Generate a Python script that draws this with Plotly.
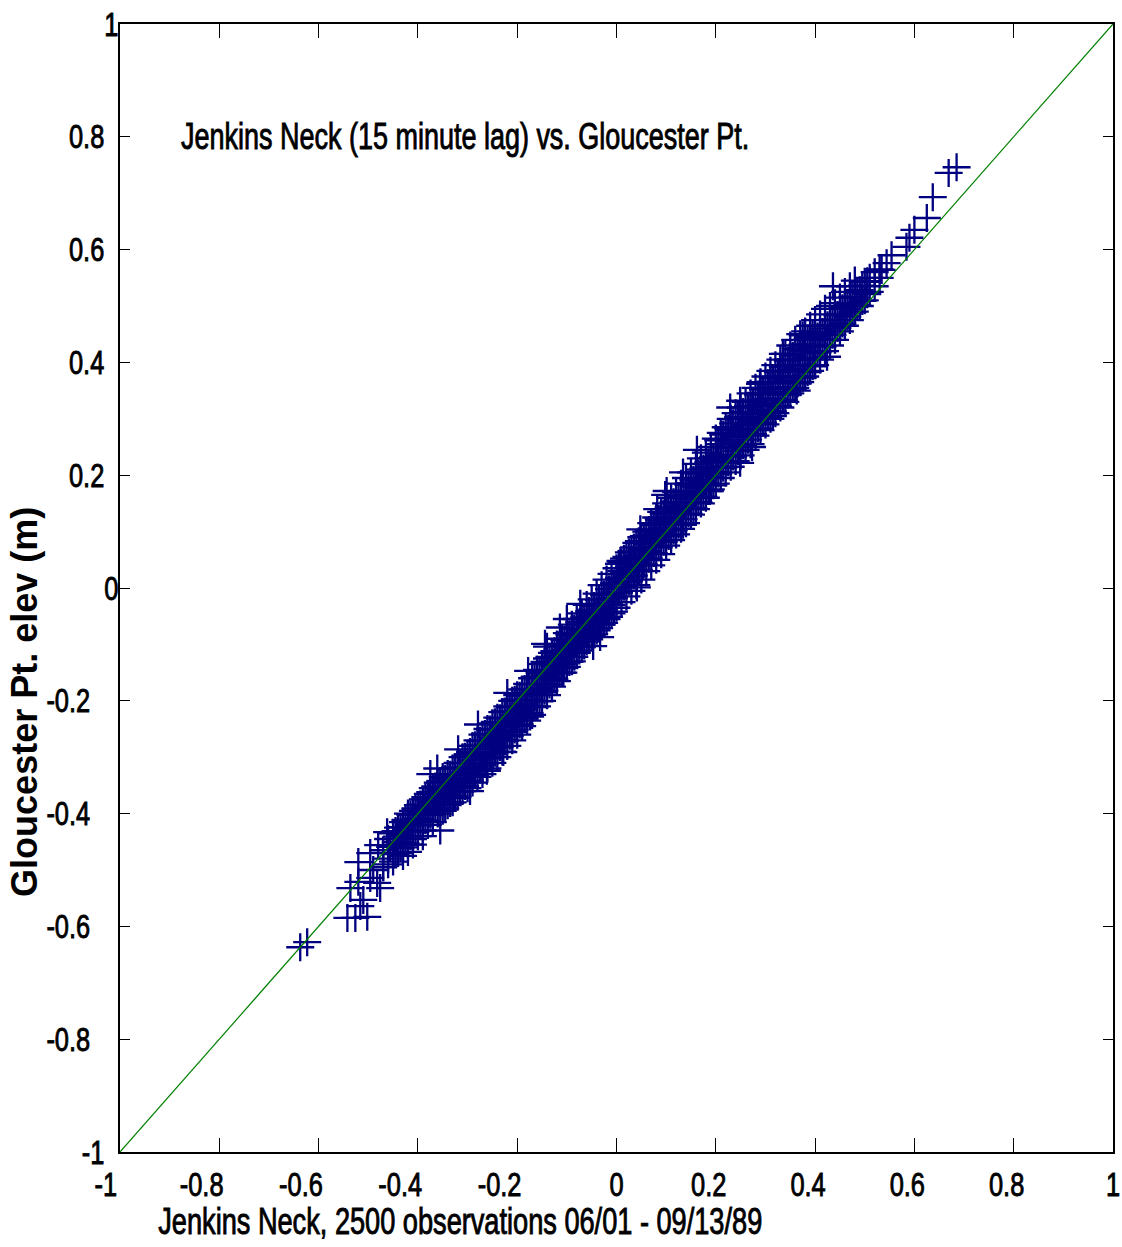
import plotly.graph_objects as go

# Paired water-surface elevations (m): Jenkins Neck (15 minute lag) vs. Gloucester Pt.
jenkins_neck = [
    -0.637, -0.623, -0.542, -0.526, -0.502, -0.516, -0.536, -0.520, -0.510,
    -0.496, -0.482, -0.476, -0.490, -0.470, -0.520, -0.496, -0.456, -0.462, -0.442, -0.480,
    -0.47, -0.47,
    -0.46, -0.46, -0.46,
    -0.45, -0.45, -0.45,
    -0.44, -0.44, -0.44,
    -0.43, -0.43, -0.43, -0.43,
    -0.42, -0.42, -0.42,
    -0.41, -0.41, -0.41, -0.41,
    -0.40, -0.40, -0.40,
    -0.39, -0.39, -0.39, -0.39,
    -0.38, -0.38, -0.38,
    -0.37, -0.37, -0.37, -0.37,
    -0.36, -0.36, -0.36,
    -0.35, -0.35, -0.35, -0.35,
    -0.34, -0.34, -0.34,
    -0.33, -0.33, -0.33, -0.33,
    -0.32, -0.32, -0.32,
    -0.31, -0.31, -0.31, -0.31,
    -0.30, -0.30, -0.30,
    -0.29, -0.29, -0.29, -0.29,
    -0.28, -0.28, -0.28,
    -0.27, -0.27, -0.27, -0.27,
    -0.26, -0.26, -0.26,
    -0.25, -0.25, -0.25, -0.25,
    -0.24, -0.24, -0.24,
    -0.23, -0.23, -0.23, -0.23,
    -0.22, -0.22, -0.22,
    -0.21, -0.21, -0.21, -0.21,
    -0.20, -0.20, -0.20,
    -0.19, -0.19, -0.19, -0.19,
    -0.18, -0.18, -0.18,
    -0.17, -0.17, -0.17, -0.17,
    -0.16, -0.16, -0.16,
    -0.15, -0.15, -0.15, -0.15,
    -0.14, -0.14, -0.14,
    -0.13, -0.13, -0.13, -0.13,
    -0.12, -0.12, -0.12,
    -0.11, -0.11, -0.11, -0.11,
    -0.10, -0.10, -0.10,
    -0.09, -0.09, -0.09, -0.09,
    -0.08, -0.08, -0.08,
    -0.07, -0.07, -0.07, -0.07,
    -0.06, -0.06, -0.06,
    -0.05, -0.05, -0.05, -0.05,
    -0.04, -0.04, -0.04,
    -0.03, -0.03, -0.03, -0.03,
    -0.02, -0.02, -0.02,
    -0.01, -0.01, -0.01, -0.01,
    0.00, 0.00, 0.00,
    0.01, 0.01, 0.01, 0.01,
    0.02, 0.02, 0.02,
    0.03, 0.03, 0.03, 0.03,
    0.04, 0.04, 0.04,
    0.05, 0.05, 0.05, 0.05,
    0.06, 0.06, 0.06,
    0.07, 0.07, 0.07, 0.07,
    0.08, 0.08, 0.08,
    0.09, 0.09, 0.09, 0.09,
    0.10, 0.10, 0.10,
    0.11, 0.11, 0.11, 0.11,
    0.12, 0.12, 0.12,
    0.13, 0.13, 0.13, 0.13,
    0.14, 0.14, 0.14,
    0.15, 0.15, 0.15, 0.15,
    0.16, 0.16, 0.16,
    0.17, 0.17, 0.17, 0.17,
    0.18, 0.18, 0.18,
    0.19, 0.19, 0.19, 0.19,
    0.20, 0.20, 0.20,
    0.21, 0.21, 0.21, 0.21,
    0.22, 0.22, 0.22,
    0.23, 0.23, 0.23, 0.23,
    0.24, 0.24, 0.24,
    0.25, 0.25, 0.25, 0.25,
    0.26, 0.26, 0.26,
    0.27, 0.27, 0.27, 0.27,
    0.28, 0.28, 0.28,
    0.29, 0.29, 0.29, 0.29,
    0.30, 0.30, 0.30,
    0.31, 0.31, 0.31, 0.31,
    0.32, 0.32, 0.32,
    0.33, 0.33, 0.33, 0.33,
    0.34, 0.34, 0.34,
    0.35, 0.35, 0.35, 0.35,
    0.36, 0.36, 0.36,
    0.37, 0.37, 0.37, 0.37,
    0.38, 0.38, 0.38,
    0.39, 0.39, 0.39, 0.39,
    0.40, 0.40, 0.40,
    0.41, 0.41, 0.41,
    0.42, 0.42, 0.42,
    0.43, 0.43, 0.43,
    0.44, 0.44, 0.44,
    0.45, 0.45, 0.45,
    0.46, 0.46, 0.46,
    0.47, 0.47, 0.47,
    0.48, 0.48, 0.48,
    0.49, 0.49,
    0.50, 0.50,
    0.51, 0.51,
    0.52, 0.52,
    0.53, 0.53,
    0.534, 0.544, 0.554, 0.584, 0.590, 0.600, 0.625, 0.637, 0.669, 0.685, 0.436,
    -0.445, -0.445, -0.445, -0.435, -0.435, -0.435, -0.425, -0.425, -0.425,
    -0.415, -0.415, -0.415, -0.405, -0.405, -0.405, -0.395, -0.395, -0.395,
    -0.385, -0.385, -0.385, -0.375, -0.375, -0.375, -0.365, -0.365, -0.365,
    -0.355, -0.355, -0.355, -0.345, -0.345, -0.345, -0.335, -0.335, -0.335,
    -0.325, -0.325, -0.325, -0.315, -0.315, -0.315, -0.305, -0.305, -0.305,
    -0.295, -0.295, -0.295, -0.285, -0.285, -0.285, -0.275, -0.275, -0.275,
    -0.265, -0.265, -0.265, -0.255, -0.255, -0.255, -0.245, -0.245, -0.245,
    -0.235, -0.235, -0.235, -0.225, -0.225, -0.225, -0.215, -0.215, -0.215,
    -0.205, -0.205, -0.205, -0.195, -0.195, -0.195, -0.185, -0.185, -0.185,
    -0.175, -0.175, -0.175, -0.165, -0.165, -0.165, -0.155, -0.155, -0.155,
    -0.145, -0.145, -0.145, -0.135, -0.135, -0.135, -0.125, -0.125, -0.125,
    -0.115, -0.115, -0.115, -0.105, -0.105, -0.105, -0.095, -0.095, -0.095,
    -0.085, -0.085, -0.085, -0.075, -0.075, -0.075, -0.065, -0.065, -0.065,
    -0.055, -0.055, -0.055, -0.045, -0.045, -0.045, -0.035, -0.035, -0.035,
    -0.025, -0.025, -0.025, -0.015, -0.015, -0.015, -0.005, -0.005, -0.005,
    0.005, 0.005, 0.005, 0.015, 0.015, 0.015, 0.025, 0.025, 0.025,
    0.035, 0.035, 0.035, 0.045, 0.045, 0.045, 0.055, 0.055, 0.055,
    0.065, 0.065, 0.065, 0.075, 0.075, 0.075, 0.085, 0.085, 0.085,
    0.095, 0.095, 0.095, 0.105, 0.105, 0.105, 0.115, 0.115, 0.115,
    0.125, 0.125, 0.125, 0.135, 0.135, 0.135, 0.145, 0.145, 0.145,
    0.155, 0.155, 0.155, 0.165, 0.165, 0.165, 0.175, 0.175, 0.175,
    0.185, 0.185, 0.185, 0.195, 0.195, 0.195, 0.205, 0.205, 0.205,
    0.215, 0.215, 0.215, 0.225, 0.225, 0.225, 0.235, 0.235, 0.235,
    0.245, 0.245, 0.245, 0.255, 0.255, 0.255, 0.265, 0.265, 0.265,
    0.275, 0.275, 0.275, 0.285, 0.285, 0.285, 0.295, 0.295, 0.295,
    0.305, 0.305, 0.305, 0.315, 0.315, 0.315, 0.325, 0.325, 0.325,
    0.335, 0.335, 0.335, 0.345, 0.345, 0.345, 0.355, 0.355, 0.355,
    0.365, 0.365, 0.365, 0.375, 0.375, 0.375, 0.385, 0.385, 0.385,
    0.395, 0.395, 0.395,
    0.405, 0.405, 0.415, 0.415, 0.425, 0.425, 0.435, 0.435, 0.445, 0.445,
    0.455, 0.455, 0.465, 0.465, 0.475, 0.475, 0.485, 0.485, 0.495, 0.495,
    0.505, 0.505,
    -0.375, -0.361, -0.319, -0.279, -0.220, -0.178, -0.140, -0.114, -0.073, -0.100,
    -0.144, 0.008, 0.048, 0.082, 0.098, 0.101, 0.134, 0.162, 0.229, 0.249,
    0.289, 0.335, 0.375,
    -0.420, -0.355, -0.295, -0.261, -0.228, -0.174, -0.107, -0.047, -0.033, 0.041,
    0.053, 0.134, 0.188, 0.249, 0.273, 0.315, 0.363, 0.424,
]

gloucester_pt = [
    -0.637, -0.628, -0.585, -0.585, -0.583, -0.564, -0.532, -0.521, -0.553,
    -0.514, -0.523, -0.532, -0.500, -0.495, -0.486, -0.470, -0.459, -0.433, -0.441, -0.456,
    -0.495, -0.465,
    -0.48, -0.445, -0.49,
    -0.47, -0.435, -0.485,
    -0.47, -0.45, -0.425,
    -0.46, -0.44, -0.415, -0.475,
    -0.455, -0.43, -0.40,
    -0.445, -0.42, -0.395, -0.455,
    -0.44, -0.41, -0.385,
    -0.43, -0.40, -0.375, -0.44,
    -0.42, -0.39, -0.365,
    -0.415, -0.385, -0.355, -0.40,
    -0.40, -0.375, -0.345,
    -0.395, -0.365, -0.335, -0.38,
    -0.385, -0.355, -0.33,
    -0.38, -0.35, -0.32, -0.37,
    -0.37, -0.34, -0.31,
    -0.36, -0.33, -0.30, -0.345,
    -0.355, -0.32, -0.295,
    -0.345, -0.31, -0.28, -0.33,
    -0.335, -0.30, -0.27,
    -0.33, -0.295, -0.26, -0.315,
    -0.32, -0.285, -0.25,
    -0.31, -0.275, -0.24, -0.295,
    -0.30, -0.265, -0.23,
    -0.29, -0.255, -0.22, -0.27,
    -0.28, -0.245, -0.21,
    -0.27, -0.235, -0.20, -0.255,
    -0.26, -0.225, -0.19,
    -0.245, -0.215, -0.18, -0.23,
    -0.235, -0.20, -0.17,
    -0.225, -0.19, -0.16, -0.21,
    -0.21, -0.18, -0.145,
    -0.20, -0.17, -0.135, -0.185,
    -0.19, -0.155, -0.125,
    -0.175, -0.145, -0.115, -0.16,
    -0.165, -0.13, -0.10,
    -0.15, -0.12, -0.09, -0.135,
    -0.14, -0.11, -0.08,
    -0.13, -0.095, -0.065, -0.115,
    -0.115, -0.085, -0.055,
    -0.105, -0.075, -0.045, -0.09,
    -0.095, -0.06, -0.03,
    -0.085, -0.05, -0.02, -0.07,
    -0.075, -0.04, -0.01,
    -0.065, -0.03, 0.005, -0.05,
    -0.055, -0.02, 0.015,
    -0.045, -0.01, 0.025, -0.03,
    -0.035, 0.00, 0.035,
    -0.025, 0.01, 0.045, 0.03,
    -0.015, 0.02, 0.055,
    -0.005, 0.035, 0.065, 0.05,
    0.005, 0.045, 0.08,
    0.015, 0.055, 0.09, 0.07,
    0.03, 0.065, 0.10,
    0.04, 0.08, 0.115, 0.095,
    0.05, 0.09, 0.125,
    0.06, 0.10, 0.135, 0.12,
    0.075, 0.115, 0.15,
    0.085, 0.125, 0.16, 0.14,
    0.095, 0.135, 0.17,
    0.105, 0.145, 0.185, 0.165,
    0.115, 0.16, 0.195,
    0.13, 0.17, 0.205, 0.185,
    0.14, 0.18, 0.22,
    0.15, 0.19, 0.23, 0.21,
    0.16, 0.205, 0.24,
    0.175, 0.215, 0.25, 0.23,
    0.185, 0.225, 0.265,
    0.195, 0.235, 0.275, 0.255,
    0.205, 0.25, 0.285,
    0.215, 0.26, 0.30, 0.28,
    0.225, 0.27, 0.31,
    0.235, 0.28, 0.32, 0.30,
    0.245, 0.29, 0.33,
    0.255, 0.30, 0.345, 0.32,
    0.27, 0.31, 0.355,
    0.28, 0.325, 0.365, 0.345,
    0.29, 0.335, 0.375,
    0.30, 0.345, 0.385, 0.365,
    0.31, 0.355, 0.395,
    0.32, 0.365, 0.405, 0.385,
    0.33, 0.375, 0.415,
    0.345, 0.385, 0.43, 0.405,
    0.355, 0.395, 0.44,
    0.365, 0.405, 0.45, 0.425,
    0.375, 0.42, 0.455,
    0.385, 0.43, 0.465, 0.445,
    0.395, 0.44, 0.475,
    0.405, 0.45, 0.485,
    0.42, 0.46, 0.495,
    0.43, 0.465, 0.50,
    0.44, 0.475, 0.505,
    0.455, 0.485, 0.515,
    0.465, 0.495, 0.525,
    0.475, 0.505, 0.535,
    0.49, 0.515, 0.545,
    0.50, 0.528,
    0.51, 0.543,
    0.525, 0.55,
    0.535, 0.56,
    0.55, 0.565,
    0.564, 0.576, 0.590, 0.605, 0.621, 0.635, 0.656, 0.693, 0.736, 0.746, 0.535,
    -0.472, -0.451, -0.431, -0.461, -0.438, -0.424, -0.452, -0.432, -0.411,
    -0.440, -0.418, -0.402, -0.433, -0.409, -0.391, -0.421, -0.401, -0.384,
    -0.412, -0.388, -0.371, -0.402, -0.379, -0.362, -0.391, -0.371, -0.352,
    -0.382, -0.358, -0.343, -0.391, -0.366, -0.338, -0.381, -0.355, -0.331,
    -0.372, -0.346, -0.318, -0.361, -0.338, -0.311, -0.351, -0.326, -0.299,
    -0.342, -0.318, -0.291, -0.331, -0.305, -0.279, -0.322, -0.298, -0.271,
    -0.311, -0.286, -0.259, -0.302, -0.278, -0.251, -0.291, -0.266, -0.238,
    -0.282, -0.258, -0.231, -0.271, -0.246, -0.219, -0.262, -0.238, -0.211,
    -0.251, -0.226, -0.198, -0.242, -0.218, -0.191, -0.231, -0.206, -0.179,
    -0.222, -0.198, -0.171, -0.211, -0.186, -0.158, -0.201, -0.178, -0.151,
    -0.182, -0.158, -0.131, -0.171, -0.146, -0.122, -0.162, -0.138, -0.112,
    -0.151, -0.126, -0.101, -0.142, -0.118, -0.092, -0.131, -0.106, -0.082,
    -0.122, -0.098, -0.072, -0.111, -0.086, -0.061, -0.102, -0.078, -0.052,
    -0.091, -0.066, -0.041, -0.082, -0.058, -0.032, -0.071, -0.046, -0.021,
    -0.062, -0.038, -0.012, -0.051, -0.026, -0.002, -0.042, -0.018, 0.008,
    -0.008, 0.018, 0.043, 0.002, 0.026, 0.052, 0.012, 0.038, 0.063,
    0.022, 0.046, 0.072, 0.032, 0.058, 0.083, 0.042, 0.066, 0.092,
    0.052, 0.078, 0.103, 0.062, 0.086, 0.112, 0.072, 0.098, 0.123,
    0.082, 0.106, 0.132, 0.092, 0.118, 0.143, 0.102, 0.126, 0.152,
    0.112, 0.138, 0.163, 0.122, 0.146, 0.172, 0.132, 0.158, 0.183,
    0.142, 0.166, 0.192, 0.152, 0.178, 0.203, 0.162, 0.186, 0.212,
    0.172, 0.198, 0.223, 0.182, 0.206, 0.232, 0.203, 0.228, 0.262,
    0.213, 0.236, 0.272, 0.223, 0.248, 0.283, 0.233, 0.256, 0.292,
    0.243, 0.268, 0.303, 0.253, 0.276, 0.312, 0.263, 0.288, 0.323,
    0.273, 0.296, 0.332, 0.283, 0.308, 0.343, 0.293, 0.316, 0.352,
    0.303, 0.328, 0.363, 0.313, 0.336, 0.372, 0.323, 0.348, 0.383,
    0.333, 0.356, 0.392, 0.343, 0.368, 0.403, 0.353, 0.376, 0.412,
    0.363, 0.388, 0.423, 0.373, 0.396, 0.432, 0.383, 0.408, 0.443,
    0.393, 0.416, 0.452,
    0.418, 0.446, 0.428, 0.454, 0.441, 0.466, 0.449, 0.476, 0.461, 0.484,
    0.469, 0.496, 0.481, 0.504, 0.489, 0.516, 0.501, 0.524, 0.509, 0.536,
    0.521, 0.544,
    -0.330, -0.320, -0.286, -0.242, -0.186, -0.147, -0.104, -0.070, -0.028, -0.055,
    -0.099, 0.048, 0.104, 0.140, 0.165, 0.172, 0.205, 0.245, 0.320, 0.332,
    0.362, 0.415, 0.448,
    -0.468, -0.430, -0.360, -0.324, -0.291, -0.228, -0.150, -0.103, -0.087, 0.001,
    0.040, 0.112, 0.172, 0.222, 0.250, 0.305, 0.350, 0.410,
]

# 1:1 reference line
one_to_one = [-1, 1]

tick_values = [-1, -0.8, -0.6, -0.4, -0.2, 0, 0.2, 0.4, 0.6, 0.8, 1]
tick_labels = ["-1", "-0.8", "-0.6", "-0.4", "-0.2", "0", "0.2", "0.4", "0.6", "0.8", "1"]

title_text = "Jenkins Neck (15 minute lag) vs. Gloucester Pt."
x_title_text = "Jenkins Neck, 2500 observations 06/01 - 09/13/89"
y_title_text = "Gloucester Pt. elev (m)"

assert len(jenkins_neck) == len(gloucester_pt)

SANS = "Liberation Sans, Arial, sans-serif"
NBSP = "\u00a0"


def x_label(t):
    # trailing no-break spaces nudge centred labels left of their tick
    if t == "-1":
        return t + NBSP * 4
    if t.startswith("-"):
        return t + NBSP * 5
    if "." in t:
        return t + NBSP * 2
    return t


def y_label(t):
    # trailing no-break spaces pull right-aligned labels away from the axis
    if t == "-1":
        return t + NBSP * 2
    if t.startswith("-"):
        return t + NBSP * 4
    if "." in t:
        return t + NBSP * 2
    return t


fig = go.Figure()

fig.add_trace(go.Scatter(
    x=jenkins_neck, y=gloucester_pt, mode="markers",
    marker=dict(symbol="cross-thin", size=20, color="#000080",
                line=dict(width=2.3, color="#000080")),
    showlegend=False, hoverinfo="skip",
))

fig.add_trace(go.Scatter(
    x=one_to_one, y=one_to_one, mode="lines",
    line=dict(color="#008000", width=1.2),
    showlegend=False, hoverinfo="skip",
))

axis_common = dict(
    range=[-1, 1], showgrid=False, zeroline=False, automargin=False,
    showline=True, linecolor="black", linewidth=2, mirror="allticks",
    ticks="inside", tickcolor="black", tickwidth=1,
    tickmode="array", tickvals=tick_values, tickangle=0,
    ticklabeloverflow="allow",
    tickfont=dict(family=SANS, size=33, color="black"),
)

fig.update_layout(
    width=1122, height=1247,
    margin=dict(l=120, r=9, t=24, b=95),
    paper_bgcolor="white", plot_bgcolor="white",
    xaxis=dict(axis_common, ticklen=14, ticktext=[x_label(t) for t in tick_labels],
               ticklabelstandoff=2),
    yaxis=dict(axis_common, ticklen=10, ticktext=[y_label(t) for t in tick_labels],
               ticklabelstandoff=-7),
    annotations=[
        dict(text=title_text, x=-0.305, y=0.8, xref="x", yref="y",
             xanchor="center", yanchor="middle", showarrow=False,
             font=dict(family=SANS, size=36, color="black")),
        dict(text=x_title_text, x=(460 - 120) / 993, y=-0.062, xref="paper", yref="paper",
             xanchor="center", yanchor="middle", showarrow=False,
             font=dict(family=SANS, size=36, color="black")),
        dict(text=y_title_text, x=-0.0957, y=0.399, xref="paper", yref="paper",
             xanchor="center", yanchor="middle", showarrow=False, textangle=-90,
             font=dict(family=SANS, size=36, color="black", weight="bold")),
    ],
)

# Narrow (and slightly embolden) the tick labels and the two horizontal captions
# about their anchor points
narrow_text = """
var gd = document.getElementById('{plot_id}');
function squeeze(sel, s) {
  gd.querySelectorAll(sel).forEach(function (t) {
    var ax = parseFloat(t.getAttribute('x')) || 0;
    var tr = t.getAttribute('transform') || '';
    t.setAttribute('transform', tr + ' translate(' + ax + ',0) scale(' + s + ',1) translate(' + (-ax) + ',0)');
    t.style.stroke = '#000';
    t.style.strokeWidth = '0.9px';
  });
}
squeeze('.xtick text', 0.77);
squeeze('.ytick text', 0.77);
squeeze('.annotation[data-index="0"] .annotation-text', 0.75);
squeeze('.annotation[data-index="1"] .annotation-text', 0.755);
"""

fig.write_html("out.html", post_script=narrow_text)
